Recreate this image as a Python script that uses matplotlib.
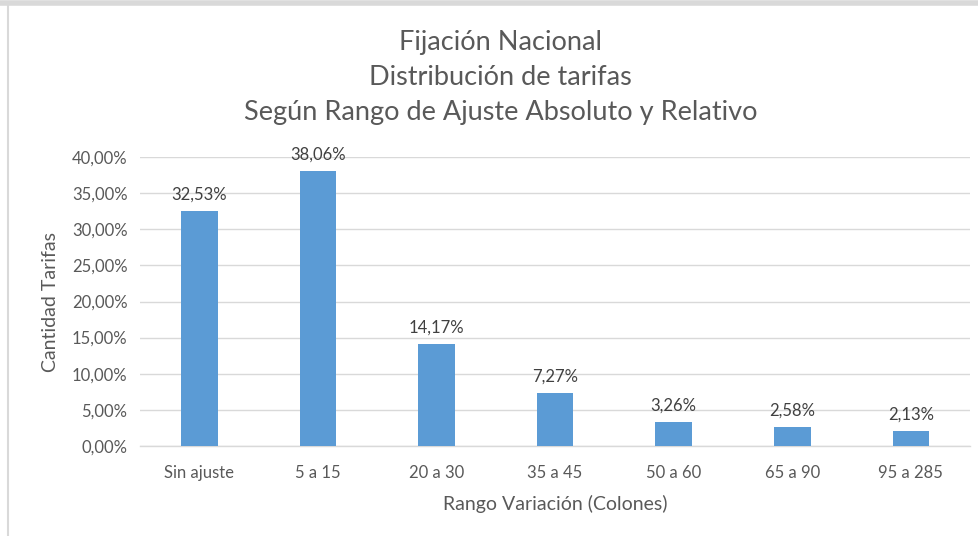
import matplotlib
matplotlib.use("Agg")
import matplotlib.pyplot as plt
from matplotlib.lines import Line2D

# data
categories = ["Sin ajuste", "5 a 15", "20 a 30", "35 a 45", "50 a 60", "65 a 90", "95 a 285"]
values = [32.53, 38.06, 14.17, 7.27, 3.26, 2.58, 2.13]
yticks = [0, 5, 10, 15, 20, 25, 30, 35, 40]
title_lines = ["Fijación Nacional", "Distribución de tarifas",
               "Según Rango de Ajuste Absoluto y Relativo"]

txt = "#595959"
plt.rcParams['font.family'] = ['Lato', 'DejaVu Sans']

fig = plt.figure(figsize=(9.79, 5.36), dpi=100)
ax = fig.add_axes([0.143, 0.168, 0.848, 0.539])

x = range(len(categories))
ax.bar(x, values, width=0.31, color="#5b9bd5", zorder=3)
for i, v in zip(x, values):
    ax.annotate(("%.2f%%" % v).replace(".", ","), (i, v), xytext=(0, 6),
                textcoords="offset points", ha="center", va="bottom",
                fontsize=12, color="#404040")

ax.set_xlim(-0.5, len(categories) - 0.5)
ax.set_ylim(0, 40)
ax.set_yticks(yticks)
ax.set_yticklabels([("%.2f%%" % t).replace(".", ",") for t in yticks])
ax.set_xticks(list(x))
ax.set_xticklabels(categories)
ax.tick_params(length=0, labelsize=12, colors=txt, pad=9)
ax.tick_params(axis="x", pad=14)
ax.grid(axis="y", color="#d9d9d9", linewidth=1, zorder=0)
for s in ["top", "right", "left"]:
    ax.spines[s].set_visible(False)
ax.spines["bottom"].set_color("#d9d9d9")
ax.spines["bottom"].set_linewidth(1)

ax.set_ylabel("Cantidad Tarifas", fontsize=14, color=txt, labelpad=9)
ax.set_xlabel("Rango Variación (Colones)", fontsize=14, color=txt, labelpad=10)

for line, yy in zip(title_lines, [0.9216, 0.8563, 0.7892]):
    fig.text(0.511, yy, line, ha="center", va="center", fontsize=19.5, color=txt)

# chart border bits
fig.add_artist(Line2D([0, 1], [0.995, 0.995], color="#d9d9d9", linewidth=4))
fig.add_artist(Line2D([0.008, 0.008], [0, 0.99], color="#d9d9d9", linewidth=1.5))

fig.savefig("out.png", dpi=100)
